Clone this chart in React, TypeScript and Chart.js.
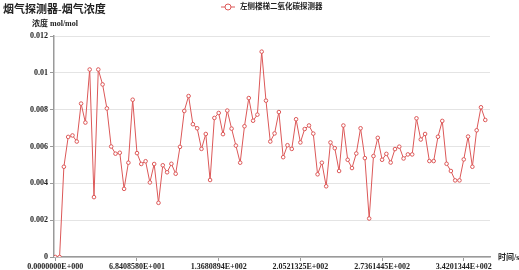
import { useEffect, useRef } from 'react';
import { Chart, registerables } from 'chart.js';

Chart.register(...registerables);

// Chart texts
const chartTitle = '烟气探测器-烟气浓度';
const seriesName = '左侧楼梯二氧化碳探测器';
const yAxisName = '浓度 mol/mol';
const xAxisName = '时间/s';

// Time labels shown on the x axis, one every `labelEvery` samples
const timeTickLabels = [
  '0.0000000E+000',
  '6.8408580E+001',
  '1.3680894E+002',
  '2.0521325E+002',
  '2.7361445E+002',
  '3.4201344E+002',
];
const labelEvery = 19;

// Concentration readings (mol/mol), one per sample
const concentration = [
  0, 0, 0.0049, 0.00652, 0.0066, 0.00627, 0.00833, 0.0073, 0.01018, 0.00325,
  0.01018, 0.00937, 0.00807, 0.006, 0.00561, 0.00566, 0.0037, 0.00512, 0.00854, 0.00564,
  0.00505, 0.0052, 0.00405, 0.00505, 0.00294, 0.00498, 0.0046, 0.00506, 0.00452, 0.00598,
  0.00793, 0.00874, 0.00721, 0.00699, 0.00587, 0.00668, 0.00418, 0.00755, 0.00782, 0.00667,
  0.00795, 0.00697, 0.00605, 0.00512, 0.0071, 0.00863, 0.0074, 0.00773, 0.01115, 0.00849,
  0.00627, 0.00671, 0.00787, 0.00542, 0.00607, 0.00587, 0.00748, 0.00622, 0.00695, 0.00714,
  0.0067, 0.00449, 0.00512, 0.00384, 0.00622, 0.00591, 0.00467, 0.00714, 0.00528, 0.00483,
  0.00562, 0.00699, 0.00537, 0.00209, 0.00548, 0.00647, 0.00528, 0.0056, 0.00513, 0.00586,
  0.00599, 0.00535, 0.00557, 0.00557, 0.00753, 0.00638, 0.00668, 0.00521, 0.00521, 0.00653,
  0.00739, 0.00506, 0.00467, 0.00416, 0.00416, 0.0053, 0.00654, 0.0049, 0.00688, 0.00813,
  0.00744,
];

const yMax = 0.012;
const yStep = 0.002;

const LINE_COLOR = '#dc5858';
const AXIS_COLOR = '#9a9a9a';
const GRID_COLOR = '#e4e4e4';
const TEXT_COLOR = '#222';
const SERIF = '"Liberation Serif", "Noto Sans CJK SC", serif';

const textPlugin = {
  id: 'chartTexts',
  afterDraw(chart: Chart) {
    const ctx = chart.ctx;
    ctx.save();
    ctx.fillStyle = TEXT_COLOR;
    ctx.textBaseline = 'middle';
    ctx.textAlign = 'left';

    // title
    ctx.font = `bold 11px ${SERIF}`;
    ctx.fillText(chartTitle, 3, 10);

    // legend
    const ly = 7;
    ctx.strokeStyle = LINE_COLOR;
    ctx.lineWidth = 1;
    ctx.beginPath();
    ctx.moveTo(221, ly);
    ctx.lineTo(235, ly);
    ctx.stroke();
    ctx.beginPath();
    ctx.arc(228, ly, 3, 0, Math.PI * 2);
    ctx.fillStyle = '#fff';
    ctx.fill();
    ctx.stroke();
    ctx.fillStyle = TEXT_COLOR;
    ctx.font = `bold 7.5px ${SERIF}`;
    ctx.fillText(seriesName, 240, ly);

    // axis names
    ctx.font = `bold 8px ${SERIF}`;
    ctx.fillText(yAxisName, 32, 24);
    ctx.fillText(xAxisName, 498, 258);
    ctx.restore();
  },
};

export default function App() {
  const canvasRef = useRef<HTMLCanvasElement | null>(null);

  useEffect(() => {
    const canvas = canvasRef.current;
    if (!canvas) return;
    const tickFont = { family: SERIF, size: 8, weight: 'bold' as const };

    const chart = new Chart(canvas, {
      type: 'line',
      data: {
        datasets: [
          {
            label: seriesName,
            data: concentration.map((v, i) => ({ x: i, y: v })),
            borderColor: LINE_COLOR,
            borderWidth: 1,
            backgroundColor: '#fff',
            pointBackgroundColor: '#fff',
            pointBorderColor: LINE_COLOR,
            pointBorderWidth: 1,
            pointRadius: 1.8,
            tension: 0,
            fill: false,
          },
        ],
      },
      options: {
        animation: false,
        responsive: false,
        maintainAspectRatio: false,
        layout: { padding: { left: 0, top: 36, right: 29, bottom: 0 } },
        plugins: {
          legend: { display: false },
          title: { display: false },
          tooltip: { enabled: false },
        },
        scales: {
          x: {
            type: 'linear',
            min: -0.3,
            max: 101.1,
            afterBuildTicks: (scale: any) => {
              scale.ticks = timeTickLabels.map((_, k) => ({ value: k * labelEvery }));
            },
            afterFit: (scale: any) => {
              scale.height = 13;
            },
            ticks: {
              autoSkip: false,
              maxRotation: 0,
              minRotation: 0,
              padding: 1,
              color: TEXT_COLOR,
              font: tickFont,
              callback: (value: any) => {
                const k = Math.round(Number(value) / labelEvery);
                return timeTickLabels[k] ?? '';
              },
            },
            grid: {
              display: true,
              drawOnChartArea: false,
              drawTicks: true,
              tickLength: 4,
              tickColor: AXIS_COLOR,
            },
            border: { display: true, color: AXIS_COLOR, width: 1.5 },
          },
          y: {
            type: 'linear',
            min: 0,
            max: yMax,
            afterFit: (scale: any) => {
              scale.width = 54;
            },
            ticks: {
              stepSize: yStep,
              padding: 2,
              color: TEXT_COLOR,
              font: tickFont,
              callback: (value: any) => String(+Number(value).toFixed(3)),
            },
            grid: {
              color: GRID_COLOR,
              lineWidth: 1,
              drawTicks: true,
              tickLength: 4,
              tickColor: AXIS_COLOR,
            },
            border: { display: true, color: AXIS_COLOR, width: 1.5 },
          },
        },
      },
      plugins: [textPlugin],
    });

    return () => chart.destroy();
  }, []);

  return (
    <div style={{ position: 'absolute', left: 0, top: 0, width: 519, height: 270, background: '#fff' }}>
      <canvas ref={canvasRef} width={519} height={270} style={{ width: 519, height: 270 }} />
    </div>
  );
}
